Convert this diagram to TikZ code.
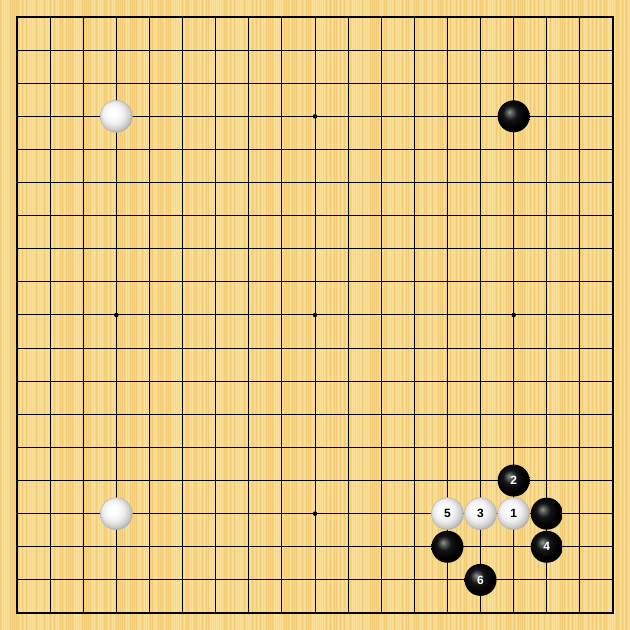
\documentclass[tikz,border=0pt]{standalone}
\usepackage{fontspec}
\setmainfont{Liberation Sans}
\pgfdeclareradialshading{whiteball}{\pgfpoint{-7bp}{7bp}}{color(0bp)=(white); color(6bp)=(white); color(16bp)=(black!6); color(24bp)=(black!20); color(30bp)=(black!36); color(36bp)=(black!52); color(50bp)=(black!52)}
\pgfdeclareradialshading{blackball}{\pgfpoint{-7bp}{7bp}}{color(0bp)=(black!40); color(3bp)=(black!58); color(11bp)=(black!92); color(22bp)=(black); color(29bp)=(black); color(35bp)=(black!72); color(50bp)=(black!72)}
\begin{document}
\begin{tikzpicture}[x=1pt,y=1pt,
  gridline/.style={black,line width=1pt},
  borderline/.style={black,line width=2pt},
  starpt/.style={circle,fill=black,inner sep=0pt,minimum size=4.5pt},
  bstone/.style={circle,inner sep=0pt,minimum size=32pt,shading=blackball,
     font=\fontsize{12}{12}\selectfont\bfseries,text=white},
  wstone/.style={circle,inner sep=0pt,minimum size=32pt,shading=whiteball,
     draw=black!30,line width=0.4pt,
     font=\fontsize{12}{12}\selectfont\bfseries,text=black}]
\definecolor{boardbg}{RGB}{248,214,132}
\definecolor{stripeA}{RGB}{253,230,162}
\definecolor{stripeB}{RGB}{236,194,104}
\useasboundingbox (0,0) rectangle (630,630);
\fill[boardbg] (0,0) rectangle (630,630);
\pgfmathsetseed{7}
\foreach \k in {0,...,314}{
  \pgfmathsetmacro{\r}{rnd}
  \ifdim\r pt<0.5pt
    \fill[stripeA,opacity=0.75] ({2*\k},0) rectangle ({2*\k+1},630);
  \else
    \fill[stripeB,opacity=0.5] ({2*\k},0) rectangle ({2*\k+1},630);
  \fi
}
\def\s{33.111}
% grid
\foreach \i in {1,...,17}{
  \draw[gridline] ({17+\i*\s},{630-17}) -- ({17+\i*\s},{630-613});
  \draw[gridline] (17,{630-17-\i*\s}) -- (613,{630-17-\i*\s});
}
\draw[borderline] (17,613) rectangle (613,17);
% star points
\foreach \i in {3,9,15}{
  \foreach \j in {3,9,15}{
    \node[starpt] (star\i\j) at ({17+\i*\s},{630-17-\j*\s}) {};
  }
}
% stones
\newcommand{\pt}[2]{({17+#1*\s},{630-17-#2*\s})}
\node[wstone] (w44) at \pt{3}{3} {};
\node[bstone] (b164) at \pt{15}{3} {};
\node[wstone] (w416) at \pt{3}{15} {};
\node[bstone] (m2) at \pt{15}{14} {2};
\node[wstone] (m5) at \pt{13}{15} {5};
\node[wstone] (m3) at \pt{14}{15} {3};
\node[wstone] (m1) at \pt{15}{15} {1};
\node[bstone] (b1716) at \pt{16}{15} {};
\node[bstone] (b1417) at \pt{13}{16} {};
\node[bstone] (m4) at \pt{16}{16} {4};
\node[bstone] (m6) at \pt{14}{17} {6};
\end{tikzpicture}
\end{document}
